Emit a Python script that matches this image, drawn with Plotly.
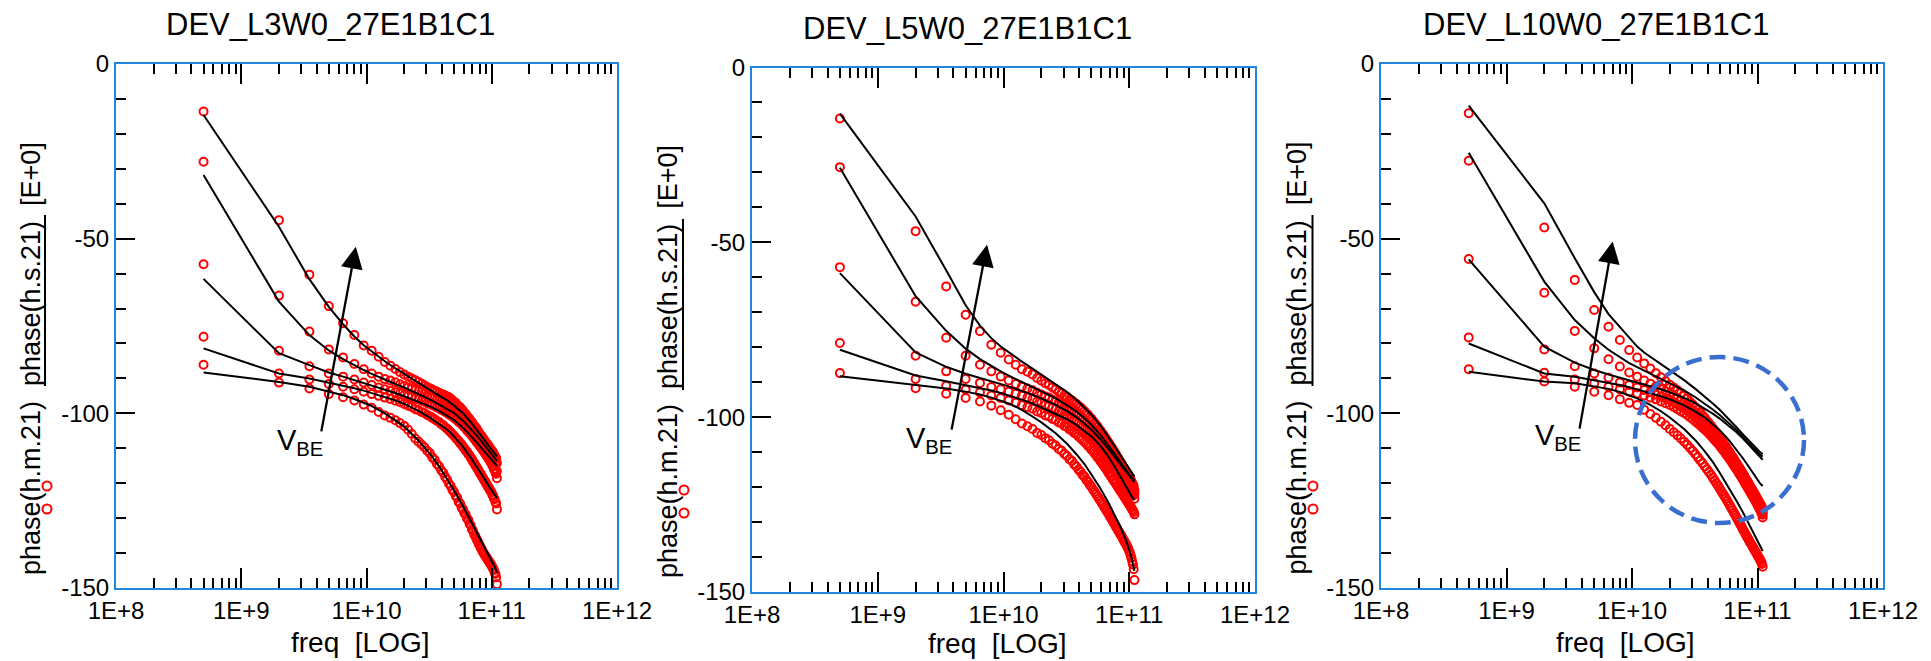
import plotly.graph_objects as go

W, H = 1931, 661          # browser window
OFF = 8                   # default page body margin in the written html
FW, FH = W - OFF, H - OFF  # figure size so that it exactly fills the window
FONT = "Liberation Sans, Arial, sans-serif"
FRAME = "#2086E0"

# ---------------- data ----------------
FREQ_GHZ = [0.5, 2.0, 3.5, 5.0, 6.5, 8.0, 9.5, 11.0, 12.5, 14.0, 15.5, 17.0, 18.5, 20.0,
            21.5, 23.0, 24.5, 26.0, 27.5, 29.0,
            30.5, 32.0, 33.5, 35.0, 36.5, 38.0, 39.5,
            41.0, 42.5, 44.0, 45.5, 47.0, 48.5, 50.0,
            51.5, 53.0, 54.5, 56.0, 57.5, 59.0,
            60.5, 62.0, 63.5, 65.0, 66.5, 68.0, 69.5,
            71.0, 72.5, 74.0, 75.5, 77.0, 78.5, 80.0,
            81.5, 83.0, 84.5, 86.0, 87.5, 89.0,
            90.5, 92.0, 93.5, 95.0, 96.5, 98.0, 99.5,
            101.0, 102.5, 104.0, 105.5, 107.0, 108.5, 110.0]

SIM_FREQ_GHZ = [0.5, 2.0, 3.5, 5.0, 6.5, 8.0, 9.5, 11.0, 12.5, 14.0, 17.0, 20.0,
                26.0, 32.0, 38.0, 44.0, 50.0, 59.0, 68.0, 77.0, 86.0, 95.0, 104.0, 110.0]

# ---- panel 1 (L3) measured ----
P1_MEAS_A = [-13.6, -44.7, -60.3, -69.3, -74.2, -77.6, -80.6, -82.1, -83.8, -85.3, -86.4, -87.3, -88.2, -88.9,
             -89.5, -90.0, -90.5, -91.0, -91.5, -92.0,
             -92.5, -92.8, -93.2, -93.5, -93.8, -94.1, -94.5,
             -94.6, -94.9, -95.2, -95.4, -95.8, -96.3, -96.8,
             -97.0, -97.6, -98.0, -98.3, -98.9, -99.3,
             -99.9, -100.2, -100.9, -101.2, -101.6, -102.3, -102.5,
             -103.2, -103.5, -104.1, -104.3, -105.0, -105.3, -105.9,
             -106.2, -106.5, -107.1, -107.3, -107.9, -108.1,
             -108.6, -108.8, -109.3, -109.4, -110.0, -110.2, -110.6,
             -111.0, -111.1, -111.8, -112.0, -112.6, -112.9, -114.2]
P1_MEAS_B = [-28.0, -66.3, -76.6, -81.7, -84.0, -85.9, -87.4, -88.6, -89.5, -90.2, -90.6, -91.1, -91.7, -92.2,
             -92.6, -93.0, -93.3, -93.7, -94.0, -94.4,
             -94.9, -95.1, -95.5, -95.7, -96.1, -96.3, -96.7,
             -97.0, -97.2, -97.7, -97.9, -98.4, -98.6, -99.1,
             -99.3, -99.8, -100.1, -100.4, -100.9, -101.2,
             -101.7, -102.0, -102.5, -102.8, -103.3, -103.6, -104.2,
             -104.5, -105.0, -105.3, -105.9, -106.1, -106.7, -107.0,
             -107.4, -107.8, -108.1, -108.6, -108.8, -109.4,
             -109.6, -110.0, -110.2, -110.7, -110.9, -111.4, -111.5,
             -112.1, -112.3, -113.0, -113.2, -113.9, -114.3, -116.5]
P1_MEAS_C = [-57.3, -82.1, -86.5, -88.6, -89.5, -90.3, -91.2, -91.9, -92.6, -93.1, -93.5, -94.0, -94.3, -94.8,
             -95.1, -95.4, -95.8, -96.0, -96.4, -96.6,
             -97.1, -97.3, -97.7, -97.9, -98.3, -98.5, -99.0,
             -99.2, -99.6, -99.8, -100.3, -100.5, -101.0, -101.2,
             -101.7, -101.9, -102.5, -102.7, -103.2, -103.5,
             -104.0, -104.3, -104.9, -105.1, -105.7, -105.9, -106.5,
             -106.7, -107.3, -107.6, -108.1, -108.4, -108.9, -109.2,
             -109.7, -110.0, -110.4, -110.8, -111.2, -111.6,
             -111.9, -112.4, -112.6, -113.2, -113.4, -114.0, -114.1,
             -114.9, -115.1, -115.9, -116.2, -116.9, -117.3, -118.6]
P1_MEAS_D = [-78.1, -88.6, -90.3, -91.6, -92.4, -93.1, -93.8, -94.5, -95.0, -95.5, -95.9, -96.4, -96.8, -97.3,
             -97.8, -98.2, -98.8, -99.1, -99.6, -99.9,
             -100.5, -100.8, -101.3, -101.7, -102.2, -102.5, -103.1,
             -103.4, -104.0, -104.4, -104.9, -105.4, -106.0, -106.4,
             -107.0, -107.5, -107.9, -108.6, -108.9, -109.6,
             -110.0, -110.7, -111.0, -111.7, -112.0, -112.8, -113.1,
             -113.9, -114.2, -114.9, -115.3, -115.9, -116.3, -117.0,
             -117.3, -117.9, -118.3, -118.8, -119.3, -119.6,
             -120.2, -120.5, -121.1, -121.3, -121.9, -122.2, -122.6,
             -123.3, -123.5, -124.3, -124.6, -125.4, -125.8, -127.5]
P1_MEAS_E = [-86.1, -91.2, -92.9, -94.5, -95.4, -96.3, -97.5, -98.4, -99.6, -100.6, -101.3, -102.0, -102.8, -103.6,
             -104.7, -105.9, -107.2, -108.1, -108.9, -109.7,
             -110.7, -111.4, -112.6, -113.3, -114.5, -115.2, -116.3,
             -117.0, -118.2, -119.0, -120.1, -120.8, -121.9, -122.5,
             -123.6, -124.2, -125.4, -125.9, -127.0, -127.5,
             -128.6, -129.0, -130.1, -130.5, -131.6, -132.1, -133.2,
             -133.7, -134.7, -135.1, -136.0, -136.4, -137.3, -137.7,
             -138.5, -138.8, -139.6, -139.9, -140.5, -140.7,
             -141.3, -141.5, -142.1, -142.3, -142.9, -143.0, -143.6,
             -143.9, -144.5, -144.8, -145.6, -146.0, -146.9, -148.9]
# ---- panel 1 simulated ----
P1_SIM_A = [-14.6, -46.6, -61.6, -69.5, -74.5, -78.0, -80.5, -82.3, -83.8, -85.1, -87.1, -88.8,
            -91.3, -93.3, -94.8, -96.3, -97.8, -100.0, -102.5, -104.9, -107.3, -109.4, -111.2, -112.3]
P1_SIM_B = [-31.8, -68.0, -77.6, -82.0, -84.5, -86.3, -87.6, -88.7, -89.6, -90.3, -91.6, -92.6,
            -94.4, -96.0, -97.5, -98.9, -99.9, -102.1, -104.4, -106.6, -108.8, -110.8, -112.6, -113.6]
P1_SIM_C = [-61.5, -82.8, -86.2, -88.3, -89.5, -90.5, -91.3, -92.0, -92.6, -93.2, -94.2, -95.1,
            -96.6, -98.0, -99.3, -100.7, -101.9, -104.1, -106.4, -108.6, -110.6, -112.4, -114.1, -115.0]
P1_SIM_D = [-81.4, -88.6, -90.0, -91.2, -92.0, -92.8, -93.5, -94.2, -94.8, -95.3, -96.3, -97.3,
            -99.3, -101.2, -103.0, -104.6, -106.6, -109.6, -112.7, -115.6, -118.3, -120.9, -123.0, -124.2]
P1_SIM_E = [-88.3, -91.0, -92.4, -93.8, -94.8, -95.9, -96.9, -97.9, -99.0, -100.0, -102.0, -103.8,
            -107.8, -111.5, -115.2, -118.9, -122.0, -126.6, -130.8, -134.6, -137.8, -140.7, -143.5, -145.6]

# ---- panel 2 (L5) measured ----
P2_MEAS_A = [-14.6, -46.8, -62.6, -70.7, -75.4, -79.3, -81.6, -83.5, -85.0, -86.3, -87.0, -87.8, -88.8, -89.6,
             -90.3, -90.8, -91.5, -92.0, -92.7, -93.1,
             -93.8, -94.2, -94.8, -95.2, -95.8, -96.2, -96.8,
             -97.2, -97.8, -98.3, -98.9, -99.3, -100.0, -100.4,
             -101.1, -101.6, -102.2, -102.7, -103.4, -103.8,
             -104.5, -104.9, -105.6, -106.0, -106.7, -107.1, -107.7,
             -108.2, -108.7, -109.3, -109.6, -110.3, -110.6, -111.3,
             -111.6, -112.3, -112.6, -113.2, -113.5, -114.1,
             -114.4, -114.9, -115.3, -115.7, -116.2, -116.5, -117.1,
             -117.4, -118.0, -118.3, -118.9, -119.2, -119.8, -120.9]
P2_MEAS_B = [-28.5, -67.0, -77.3, -82.4, -85.0, -86.9, -88.4, -89.5, -90.5, -91.3, -91.8, -92.3, -93.0, -93.5,
             -94.1, -94.4, -95.0, -95.3, -95.9, -96.2,
             -96.9, -97.2, -97.8, -98.1, -98.7, -99.1, -99.6,
             -100.1, -100.6, -101.1, -101.6, -102.1, -102.6, -103.1,
             -103.6, -104.1, -104.7, -105.1, -105.7, -106.1,
             -106.7, -107.1, -107.7, -108.1, -108.7, -109.1, -109.6,
             -110.1, -110.5, -111.1, -111.5, -112.0, -112.4, -112.9,
             -113.3, -113.8, -114.1, -114.7, -115.0, -115.5,
             -115.8, -116.3, -116.6, -117.1, -117.4, -117.9, -118.2,
             -118.7, -119.0, -119.5, -119.9, -120.4, -120.7, -121.8]
P2_MEAS_C = [-57.1, -82.4, -86.9, -89.1, -90.2, -91.4, -92.0, -92.7, -93.3, -93.9, -94.4, -94.8, -95.5, -95.9,
             -96.5, -96.8, -97.4, -97.7, -98.3, -98.6,
             -99.2, -99.5, -100.1, -100.4, -101.0, -101.3, -101.9,
             -102.3, -102.9, -103.3, -103.9, -104.3, -104.9, -105.3,
             -105.8, -106.3, -106.8, -107.3, -107.8, -108.3,
             -108.8, -109.3, -109.8, -110.3, -110.8, -111.2, -111.8,
             -112.1, -112.7, -113.0, -113.6, -113.9, -114.4, -114.7,
             -115.2, -115.5, -116.0, -116.3, -116.8, -117.1,
             -117.6, -117.9, -118.4, -118.6, -119.2, -119.4, -119.9,
             -120.2, -120.7, -121.0, -121.5, -121.8, -122.3, -123.3]
P2_MEAS_D = [-78.8, -89.1, -91.0, -92.1, -92.9, -93.8, -94.5, -95.2, -95.9, -96.6, -97.1, -97.6, -98.4, -98.8,
             -99.5, -99.8, -100.5, -100.8, -101.5, -101.8,
             -102.5, -102.8, -103.5, -103.8, -104.5, -104.9, -105.5,
             -106.0, -106.5, -107.1, -107.6, -108.2, -108.6, -109.3,
             -109.7, -110.4, -110.8, -111.5, -111.9, -112.6,
             -113.0, -113.6, -114.1, -114.7, -115.1, -115.8, -116.1,
             -116.8, -117.1, -117.8, -118.1, -118.7, -119.0, -119.6,
             -119.9, -120.5, -120.8, -121.3, -121.6, -122.2,
             -122.5, -122.9, -123.3, -123.7, -124.1, -124.4, -124.9,
             -125.2, -125.6, -125.9, -126.4, -126.7, -127.1, -127.8]
P2_MEAS_E = [-87.4, -91.7, -93.3, -94.5, -95.5, -96.7, -98.0, -99.3, -100.6, -101.8, -102.6, -103.4, -104.5, -105.1,
             -106.0, -106.6, -107.6, -108.1, -109.1, -109.6,
             -110.5, -111.1, -112.0, -112.5, -113.5, -114.1, -115.0,
             -115.6, -116.5, -117.0, -117.9, -118.5, -119.3, -119.9,
             -120.7, -121.3, -122.0, -122.6, -123.3, -123.9,
             -124.6, -125.1, -125.8, -126.3, -127.0, -127.5, -128.1,
             -128.7, -129.2, -129.8, -130.3, -130.8, -131.4, -131.8,
             -132.4, -132.8, -133.4, -133.7, -134.3, -134.7,
             -135.3, -135.6, -136.2, -136.5, -137.1, -137.5, -138.2,
             -138.7, -139.5, -140.2, -141.2, -142.1, -143.5, -146.6]
# ---- panel 2 simulated ----
P2_SIM_A = [-13.2, -42.6, -58.0, -68.0, -73.8, -77.4, -79.8, -81.5, -82.9, -84.1, -86.1, -87.8,
            -90.4, -92.8, -95.0, -97.2, -99.3, -102.4, -105.5, -108.5, -111.2, -113.7, -115.9, -117.0]
P2_SIM_B = [-28.7, -65.4, -75.3, -80.4, -83.4, -85.4, -86.9, -88.1, -89.1, -90.0, -91.3, -92.6,
            -94.6, -96.6, -98.4, -100.3, -102.2, -105.1, -107.9, -110.6, -113.1, -115.3, -117.2, -118.1]
P2_SIM_C = [-58.8, -81.5, -85.6, -87.6, -88.8, -89.7, -90.5, -91.2, -91.9, -92.5, -93.6, -94.7,
            -96.5, -98.3, -100.0, -101.8, -103.6, -106.3, -108.9, -111.4, -113.7, -115.8, -117.6, -118.6]
P2_SIM_D = [-80.7, -88.1, -89.7, -90.8, -91.6, -92.4, -93.1, -93.8, -94.4, -95.0, -96.1, -97.2,
            -99.0, -100.6, -102.2, -104.0, -105.5, -108.2, -111.2, -114.3, -117.4, -120.0, -122.5, -123.7]
P2_SIM_E = [-88.3, -90.7, -91.8, -92.7, -93.5, -94.4, -95.3, -96.1, -97.0, -97.9, -99.8, -101.5,
            -104.6, -107.6, -110.6, -113.4, -116.4, -120.4, -124.3, -128.0, -131.7, -135.6, -140.0, -144.0]

# ---- panel 3 (L10) measured ----
P3_MEAS_A = [-14.1, -46.8, -61.8, -70.4, -75.2, -79.0, -81.9, -84.0, -85.7, -87.2, -88.5, -89.7, -90.8, -91.8,
             -92.6, -93.4, -94.2, -95.0, -95.8, -96.7,
             -97.5, -98.3, -99.0, -99.8, -100.6, -101.3, -102.1,
             -102.8, -103.5, -104.2, -104.9, -105.6, -106.3, -107.0,
             -107.6, -108.3, -108.9, -109.5, -110.2, -110.8,
             -111.4, -112.0, -112.5, -113.1, -113.7, -114.2, -114.8,
             -115.3, -115.9, -116.4, -116.9, -117.4, -117.9, -118.5,
             -119.0, -119.4, -119.9, -120.4, -120.9, -121.3,
             -121.8, -122.2, -122.7, -123.1, -123.5, -124.0, -124.4,
             -124.8, -125.3, -125.6, -126.1, -126.5, -126.9, -127.6]
P3_MEAS_B = [-27.7, -65.5, -76.4, -81.4, -84.5, -86.6, -88.3, -89.5, -90.6, -91.5, -92.3, -93.0, -93.7, -94.3,
             -95.0, -95.7, -96.4, -97.1, -97.8, -98.5,
             -99.2, -99.9, -100.5, -101.2, -101.9, -102.5, -103.2,
             -103.8, -104.5, -105.1, -105.8, -106.4, -107.1, -107.7,
             -108.3, -108.9, -109.5, -110.1, -110.7, -111.3,
             -111.9, -112.4, -113.0, -113.6, -114.1, -114.7, -115.2,
             -115.8, -116.3, -116.8, -117.4, -117.9, -118.4, -118.9,
             -119.4, -119.9, -120.4, -120.9, -121.4, -121.8,
             -122.3, -122.8, -123.2, -123.7, -124.1, -124.6, -125.0,
             -125.5, -125.9, -126.4, -126.8, -127.3, -127.7, -128.4]
P3_MEAS_C = [-55.8, -81.7, -86.5, -88.6, -89.8, -91.2, -91.9, -92.6, -93.3, -94.0, -94.6, -95.2, -95.7, -96.2,
             -96.8, -97.4, -98.0, -98.6, -99.2, -99.9,
             -100.5, -101.1, -101.7, -102.3, -102.9, -103.5, -104.1,
             -104.7, -105.3, -105.9, -106.5, -107.2, -107.8, -108.4,
             -109.0, -109.6, -110.2, -110.8, -111.4, -112.0,
             -112.6, -113.1, -113.7, -114.3, -114.8, -115.4, -115.9,
             -116.4, -117.0, -117.5, -118.0, -118.5, -119.0, -119.5,
             -120.0, -120.5, -120.9, -121.4, -121.9, -122.3,
             -122.8, -123.2, -123.7, -124.2, -124.6, -125.1, -125.5,
             -126.0, -126.4, -126.9, -127.3, -127.8, -128.2, -129.0]
P3_MEAS_D = [-78.3, -88.4, -90.3, -91.4, -92.4, -93.1, -93.8, -94.3, -94.9, -95.5, -96.0, -96.6, -97.1, -97.6,
             -98.2, -98.8, -99.4, -99.9, -100.5, -101.1,
             -101.7, -102.3, -102.9, -103.5, -104.1, -104.6, -105.2,
             -105.8, -106.4, -107.0, -107.6, -108.1, -108.7, -109.3,
             -109.9, -110.5, -111.0, -111.6, -112.2, -112.7,
             -113.3, -113.8, -114.4, -114.9, -115.5, -116.0, -116.5,
             -117.1, -117.6, -118.1, -118.6, -119.1, -119.6, -120.2,
             -120.6, -121.1, -121.6, -122.0, -122.5, -123.0,
             -123.4, -123.8, -124.3, -124.7, -125.1, -125.6, -126.0,
             -126.5, -126.9, -127.4, -127.8, -128.3, -128.8, -129.8]
P3_MEAS_E = [-87.4, -90.9, -92.4, -93.8, -94.8, -96.0, -97.0, -97.6, -99.0, -100.2, -101.3, -102.4, -103.4, -104.5,
             -105.4, -106.3, -107.2, -108.1, -109.0, -109.9,
             -110.8, -111.7, -112.6, -113.5, -114.3, -115.2, -116.0,
             -116.8, -117.6, -118.4, -119.2, -120.0, -120.7, -121.5,
             -122.3, -123.0, -123.7, -124.4, -125.1, -125.8,
             -126.5, -127.2, -127.8, -128.5, -129.1, -129.8, -130.4,
             -131.0, -131.6, -132.2, -132.8, -133.4, -133.9, -134.5,
             -135.0, -135.5, -136.0, -136.5, -137.0, -137.4,
             -137.9, -138.3, -138.8, -139.2, -139.6, -140.0, -140.5,
             -140.9, -141.3, -141.7, -142.1, -142.6, -143.1, -143.9]
# ---- panel 3 simulated ----
P3_SIM_A = [-11.9, -39.9, -55.6, -65.3, -71.6, -75.4, -78.4, -80.9, -82.6, -83.8, -85.8, -87.6,
            -90.5, -93.0, -95.2, -97.2, -99.0, -101.6, -104.0, -106.1, -108.0, -109.7, -111.0, -111.7]
P3_SIM_B = [-25.4, -62.3, -73.3, -78.5, -81.8, -84.0, -85.6, -86.8, -87.8, -88.6, -90.0, -91.3,
            -93.4, -95.4, -97.2, -98.9, -100.5, -102.7, -104.8, -106.8, -108.7, -110.3, -111.7, -112.4]
P3_SIM_C = [-55.9, -80.9, -85.5, -87.6, -88.9, -89.8, -90.5, -91.1, -91.7, -92.2, -93.1, -94.0,
            -95.6, -97.1, -98.6, -100.1, -101.5, -103.5, -105.4, -107.3, -109.1, -110.8, -112.4, -113.3]
P3_SIM_D = [-80.0, -88.6, -89.5, -90.5, -91.2, -91.9, -92.5, -93.1, -93.7, -94.2, -95.1, -96.0,
            -97.7, -99.5, -101.2, -103.1, -104.8, -107.6, -110.4, -113.0, -115.5, -117.9, -119.9, -120.8]
P3_SIM_E = [-88.1, -90.9, -91.4, -92.2, -93.0, -93.9, -94.8, -95.7, -96.7, -97.6, -99.4, -101.2,
            -104.5, -107.7, -110.9, -113.9, -117.0, -121.1, -125.0, -128.5, -131.9, -135.0, -137.9, -139.4]

PANEL_TITLES = ["DEV_L3W0_27E1B1C1", "DEV_L5W0_27E1B1C1", "DEV_L10W0_27E1B1C1"]
X_TICK_VALS = [1e8, 1e9, 1e10, 1e11, 1e12]
X_TICK_TEXT = ["1E+8", "1E+9", "1E+10", "1E+11", "1E+12"]
X_MINOR_VALS = [2e8, 3e8, 4e8, 5e8, 6e8, 7e8, 8e8, 9e8,
                2e9, 3e9, 4e9, 5e9, 6e9, 7e9, 8e9, 9e9,
                2e10, 3e10, 4e10, 5e10, 6e10, 7e10, 8e10, 9e10,
                2e11, 3e11, 4e11, 5e11, 6e11, 7e11, 8e11, 9e11]
Y_TICK_VALS = [0, -50, -100, -150]
Y_TICK_TEXT = ["0", "-50", "-100", "-150"]
Y_MINOR_VALS = [-10, -20, -30, -40, -60, -70, -80, -90, -110, -120, -130, -140]
X_TITLE = "freq\u00a0\u00a0[LOG]"
Y_TITLE = "phase(h.m.21)\u00a0\u00a0phase(h.s.21)\u00a0\u00a0[E+0]"

MEAS = [[P1_MEAS_A, P1_MEAS_B, P1_MEAS_C, P1_MEAS_D, P1_MEAS_E],
        [P2_MEAS_A, P2_MEAS_B, P2_MEAS_C, P2_MEAS_D, P2_MEAS_E],
        [P3_MEAS_A, P3_MEAS_B, P3_MEAS_C, P3_MEAS_D, P3_MEAS_E]]
SIM = [[P1_SIM_A, P1_SIM_B, P1_SIM_C, P1_SIM_D, P1_SIM_E],
       [P2_SIM_A, P2_SIM_B, P2_SIM_C, P2_SIM_D, P2_SIM_E],
       [P3_SIM_A, P3_SIM_B, P3_SIM_C, P3_SIM_D, P3_SIM_E]]

# ---------------- layout geometry (window pixels) ----------------
PANEL_BOX = [(116, 617, 64, 588), (752, 1255, 67.5, 592), (1381, 1883, 64, 588)]
TITLE_POS = [(330.5, 24), (967.5, 28), (1596, 24)]
XTITLE_POS = [(360, 642), (997, 643), (1625.5, 642)]
YTITLE_POS = [(30.6, 358.5), (667.5, 361.5), (1296, 358.5)]
UNDERLINE = [(45, 215, 386), (683, 219, 390), (1312.5, 215, 386)]
LEG_CIRCLES = [[(47, 486), (47, 509)], [(684, 490), (684, 513)], [(1313, 486), (1313, 509)]]
# arrows: (head log10 x, head y, tail log10 x, tail y) in axis units
ARROWS = [(9.915, -52.3, 9.637, -105.6), (9.869, -50.7, 9.585, -104.0), (9.846, -50.8, 9.580, -104.8)]
VBE_POS = [(275, 442), (904, 440), (1532.7, 437)]
ELLIPSE = (1635, 1804, 357, 523)


def px(x):
    return (x - OFF) / FW


def py(y):
    return 1 - (y - OFF) / FH


fig = go.Figure()
freq_hz = [f * 1e9 for f in FREQ_GHZ]
sim_hz = [f * 1e9 for f in SIM_FREQ_GHZ]

for i in range(3):
    xa = "x" if i == 0 else f"x{i+1}"
    ya = "y" if i == 0 else f"y{i+1}"
    for series in MEAS[i]:
        fig.add_trace(go.Scatter(x=freq_hz, y=series, mode="markers", xaxis=xa, yaxis=ya,
                                 marker=dict(symbol="circle-open", size=8, color="#FF0000",
                                             line=dict(width=2, color="#FF0000")),
                                 showlegend=False, hoverinfo="skip"))
    for series in SIM[i]:
        fig.add_trace(go.Scatter(x=sim_hz, y=series, mode="lines", xaxis=xa, yaxis=ya,
                                 line=dict(color="black", width=2),
                                 showlegend=False, hoverinfo="skip"))

layout = dict(template="none", width=FW, height=FH,
              margin=dict(l=0, r=0, t=0, b=0, pad=0, autoexpand=False), autosize=False,
              paper_bgcolor="white", plot_bgcolor="white", showlegend=False,
              font=dict(family=FONT, color="black"))
annotations = []
shapes = []
tickfont = dict(family=FONT, size=24, color="black")
for i, (x0, x1, y0, y1) in enumerate(PANEL_BOX):
    sx = "" if i == 0 else str(i + 1)
    layout[f"xaxis{sx}"] = dict(
        type="log", range=[8, 12], domain=[px(x0), px(x1)], anchor=f"y{sx}", automargin=False,
        showline=True, linecolor=FRAME, linewidth=2, mirror="allticks",
        ticks="inside", ticklen=20, tickwidth=2, tickcolor="black",
        tickvals=X_TICK_VALS, ticktext=X_TICK_TEXT, tickfont=tickfont,
        minor=dict(tickvals=X_MINOR_VALS, ticks="inside", ticklen=10, tickwidth=2, tickcolor="black",
                   showgrid=False),
        showgrid=False, zeroline=False, fixedrange=True, layer="above traces")
    layout[f"yaxis{sx}"] = dict(
        range=[-150, 0], domain=[py(y1), py(y0)], anchor=f"x{sx}", automargin=False,
        showline=True, linecolor=FRAME, linewidth=2, mirror=True,
        ticks="inside", ticklen=19, tickwidth=2, tickcolor="black",
        tickvals=Y_TICK_VALS, ticktext=Y_TICK_TEXT, tickfont=tickfont,
        minor=dict(tickvals=Y_MINOR_VALS, ticks="inside", ticklen=10, tickwidth=2, tickcolor="black",
                   showgrid=False),
        showgrid=False, zeroline=False, fixedrange=True, layer="above traces")

    tx, ty = TITLE_POS[i]
    annotations.append(dict(text=PANEL_TITLES[i], x=px(tx), y=py(ty), xref="paper", yref="paper",
                            showarrow=False, xanchor="center", yanchor="middle",
                            font=dict(family=FONT, size=31, color="black")))
    tx, ty = XTITLE_POS[i]
    annotations.append(dict(text=X_TITLE, x=px(tx), y=py(ty), xref="paper", yref="paper",
                            showarrow=False, xanchor="center", yanchor="middle",
                            font=dict(family=FONT, size=28, color="black")))
    tx, ty = YTITLE_POS[i]
    annotations.append(dict(text=Y_TITLE, x=px(tx), y=py(ty), xref="paper", yref="paper",
                            showarrow=False, xanchor="center", yanchor="middle", textangle=-90,
                            font=dict(family=FONT, size=27, color="black")))
    hx, hy, tlx, tly = ARROWS[i]
    annotations.append(dict(text="", x=hx, y=hy, ax=tlx, ay=tly, xref=f"x{sx}", yref=f"y{sx}",
                            axref=f"x{sx}", ayref=f"y{sx}", showarrow=True, arrowhead=2,
                            arrowsize=1.9, arrowwidth=2.3, arrowcolor="black", standoff=0))
    vx, vy = VBE_POS[i]
    annotations.append(dict(text="V<sub>BE</sub>", x=px(vx), y=py(vy), xref="paper", yref="paper",
                            showarrow=False, xanchor="left", yanchor="middle",
                            font=dict(family=FONT, size=29, color="black")))
    ux, uy0, uy1 = UNDERLINE[i]
    shapes.append(dict(type="line", xref="paper", yref="paper", x0=px(ux), x1=px(ux),
                       y0=py(uy0), y1=py(uy1), line=dict(color="black", width=2)))
    for cx, cy in LEG_CIRCLES[i]:
        shapes.append(dict(type="circle", xref="paper", yref="paper",
                           x0=px(cx - 4.5), x1=px(cx + 4.5), y0=py(cy + 4.5), y1=py(cy - 4.5),
                           line=dict(color="#FF0000", width=2)))

ex0, ex1, ey0, ey1 = ELLIPSE
shapes.append(dict(type="circle", xref="paper", yref="paper", x0=px(ex0), x1=px(ex1),
                   y0=py(ey1), y1=py(ey0), line=dict(color="#3A6FD0", width=4.5, dash="16px,8px")))

layout["annotations"] = annotations
layout["shapes"] = shapes
fig.update_layout(**layout)
fig.write_html("out.html")
